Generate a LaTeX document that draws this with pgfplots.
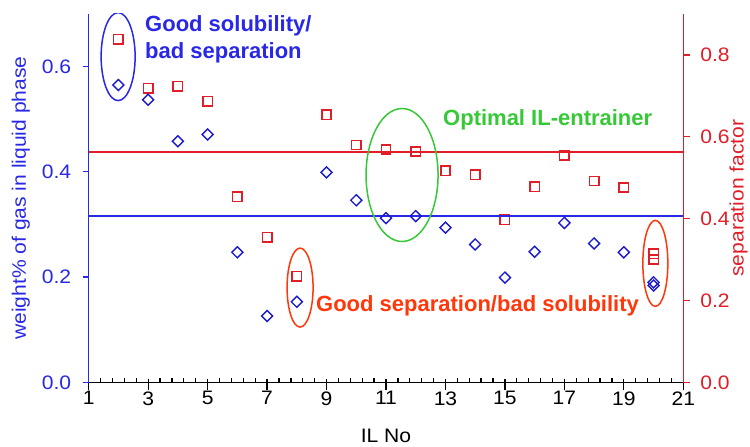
\documentclass[border=0pt]{standalone}
\usepackage{fontspec}
\setmainfont[FakeStretch=1.08]{Liberation Sans}
\newfontfamily\annfont{Liberation Sans}
\usepackage{pgfplots}
\pgfplotsset{compat=1.18}
\definecolor{bl}{RGB}{40,40,230}
\definecolor{dbl}{RGB}{25,25,205}
\definecolor{rd}{RGB}{225,30,40}
\definecolor{orr}{RGB}{255,55,10}
\definecolor{gr}{RGB}{55,200,55}
\begin{document}
\begin{tikzpicture}
\pgfplotsset{
  base/.style={scale only axis, width=594.6pt, height=368.3pt, xmin=1, xmax=21,
    /pgf/number format/assume math mode=true,
    tick label style={font=\fontsize{19.5}{22}\selectfont},
    label style={font=\fontsize{19.5}{22}\selectfont},
  },
}
% x axis only
\begin{axis}[base, ymin=0, ymax=1,
  axis x line*=bottom, axis y line=none,
  xtick={1,3,...,21}, minor x tick num=4,
  tick align=center, major tick length=11.3pt, minor tick length=4pt,
  tick style={black, line width=1.3pt},
  every major tick/.append style={yshift=-2.3pt},
  every minor tick/.append style={yshift=2pt},
  axis line style={black, line width=1.5pt},
  xlabel={IL No},
  xlabel style={yshift=-17pt},
]
\addplot[draw=none] coordinates {(1,0)};
\end{axis}
% right axis
\begin{axis}[base, ymin=0, ymax=0.9,
  axis y line*=right, axis x line=none,
  ytick={0,0.2,0.4,0.6,0.8},
  yticklabel style={/pgf/number format/fixed, /pgf/number format/fixed zerofill, /pgf/number format/precision=1, text=rd, xshift=7pt},
  tick align=outside, major tick length=6.5pt,
  tick style={rd, line width=1.3pt},
  axis line style={rd, line width=1.5pt},
  ylabel={separation factor},
  ylabel style={text=rd, yshift=7pt},
]
\addplot[color=rd, line width=2pt] coordinates {(1,0.564) (21,0.564)};
\addplot[only marks, mark=square, mark size=4.7pt, mark options={rd, line width=1.5pt}] coordinates {
(2,0.838) (3,0.719) (4,0.723) (5,0.687) (6,0.453) (7,0.354) (8,0.259) (9,0.654) (10,0.580)
(11,0.569) (12,0.564) (13,0.517) (14,0.507) (15,0.397) (16,0.478) (17,0.555) (18,0.492) (19,0.476)
(20,0.314) (20,0.300)};
\end{axis}
% left axis
\begin{axis}[base, ymin=0, ymax=0.7,
  axis y line*=left, axis x line=none,
  ytick={0,0.2,0.4,0.6},
  yticklabel style={/pgf/number format/fixed, /pgf/number format/fixed zerofill, /pgf/number format/precision=1, text=bl, xshift=-8pt},
  tick align=outside, major tick length=6pt,
  tick style={bl, line width=1.3pt},
  axis line style={bl, line width=1.5pt},
  ylabel={weight\% of gas in liquid phase},
  ylabel style={text=bl, yshift=5pt},
]
\addplot[bl, line width=2pt] coordinates {(1,0.316) (21,0.316)};
\addplot[only marks, mark=square, mark size=3.9pt, mark options={rotate=45, dbl, line width=1.4pt}] coordinates {
(2,0.565) (3,0.537) (4,0.458) (5,0.471) (6,0.247) (7,0.126) (8,0.153) (9,0.399) (10,0.346)
(11,0.312) (12,0.316) (13,0.294) (14,0.262) (15,0.199) (16,0.248) (17,0.303) (18,0.264) (19,0.247)
(20,0.190) (20,0.184)};
\draw[bl, line width=1.5pt] (axis cs:1.99,0.619) ellipse [x radius=17pt, y radius=44pt];
\draw[orr, line width=1.5pt] (axis cs:8.11,0.180) ellipse [x radius=13pt, y radius=39.5pt];
\draw[orr, line width=1.5pt] (axis cs:20.06,0.226) ellipse [x radius=12.5pt, y radius=43pt];
\draw[gr, line width=1.5pt] (axis cs:11.54,0.394) ellipse [x radius=36pt, y radius=66.5pt];
\node[anchor=base west, inner sep=0pt, text=bl, font=\annfont\bfseries\fontsize{22}{26}\selectfont] at (axis cs:2.894,0.6666) {Good solubility/};
\node[anchor=base west, inner sep=0pt, text=bl, font=\annfont\bfseries\fontsize{22}{26}\selectfont] at (axis cs:2.894,0.6154) {bad separation};
\node[anchor=base west, inner sep=0pt, text=gr, font=\annfont\bfseries\fontsize{22}{26}\selectfont] at (axis cs:12.917,0.488) {Optimal IL-entrainer};
\node[anchor=base west, inner sep=0pt, text=orr, font=\annfont\bfseries\fontsize{22}{26}\selectfont] at (axis cs:8.645,0.134) {Good separation/bad solubility};
\end{axis}
\pgfresetboundingbox
\path (-88.7pt,-64.7pt) rectangle (661.3pt,382.3pt);
\end{tikzpicture}
\end{document}
